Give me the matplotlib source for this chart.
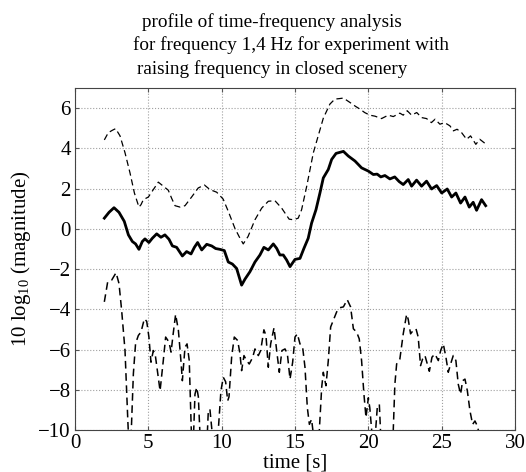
import matplotlib
matplotlib.use('Agg')
import matplotlib.pyplot as plt

plt.rcParams['font.family'] = ['Liberation Serif', 'DejaVu Serif']
plt.rcParams['mathtext.fontset'] = 'custom'
plt.rcParams['mathtext.rm'] = 'Liberation Serif'

# upper dashed curve
upper_t = [2.0, 2.27, 2.55, 2.77, 3.07, 3.41, 3.75, 4.05, 4.36, 4.5, 4.66, 5.0, 5.34, 5.68,
           6.02, 6.36, 6.6, 6.82, 7.16, 7.5, 7.95, 8.4, 8.82, 9.2, 9.66, 10.1, 10.45, 10.9,
           11.2, 11.47, 11.8, 12.27, 12.73, 13.18, 13.63, 14.09, 14.6, 14.9, 15.22, 15.45,
           15.8, 16.25, 16.93, 17.38, 17.72, 18.0, 18.3, 18.75, 19.1, 19.43, 19.75, 20.1,
           20.45, 20.9, 21.36, 21.7, 22.15, 22.38, 22.65, 22.95, 23.3, 23.63, 23.97, 24.3,
           24.55, 24.88, 25.2, 25.56, 25.8, 26.05, 26.36, 26.7, 26.97, 27.33, 27.6, 27.95]
upper_db = [4.42, 4.78, 4.9, 4.98, 4.62, 3.78, 2.78, 1.78, 1.08, 1.2, 1.45, 1.58, 1.95, 2.32,
            2.12, 1.92, 1.5, 1.15, 1.08, 1.15, 1.58, 2.03, 2.18, 1.95, 1.82, 1.48, 0.87, 0.03,
            -0.4, -0.75, -0.38, 0.45, 1.03, 1.37, 1.4, 1.03, 0.48, 0.45, 0.53, 0.95,
            2.12, 3.78, 5.5, 6.2, 6.45, 6.47, 6.5, 6.28, 6.1, 5.95, 5.78, 5.65,
            5.6, 5.48, 5.65, 5.58, 5.75, 5.65, 5.87, 5.65, 5.78, 5.53, 5.48, 5.28,
            5.45, 5.2, 5.28, 5.12, 4.87, 4.95, 4.78, 4.45, 4.62, 4.2, 4.45, 4.25]

# middle solid curve
mid_t = [2.0, 2.32, 2.66, 3.0, 3.36, 3.64, 3.91, 4.13, 4.36, 4.59, 4.77, 5.04, 5.27, 5.57,
         5.86, 6.13, 6.41, 6.64, 6.93, 7.32, 7.61, 7.91, 8.14, 8.36, 8.64, 8.98, 9.32, 9.59,
         9.88, 10.18, 10.45, 10.73, 11.02, 11.36, 11.59, 11.93, 12.27, 12.61, 12.88, 13.18,
         13.52, 13.75, 13.97, 14.2, 14.43, 14.66, 15.0, 15.34, 15.61, 15.9, 16.13, 16.43,
         16.7, 16.93, 17.27, 17.5, 17.8, 18.3, 18.63, 19.09, 19.54, 20.0, 20.34, 20.6,
         20.85, 21.13, 21.47, 21.8, 22.1, 22.38, 22.72, 22.95, 23.29, 23.63, 23.97, 24.31,
         24.66, 25.0, 25.38, 25.68, 25.97, 26.29, 26.59, 26.88, 27.15, 27.38, 27.72, 28.0]
mid_db = [0.53, 0.82, 1.05, 0.82, 0.37, -0.3, -0.63, -0.75, -1.02, -0.63, -0.5, -0.68, -0.47, -0.25,
          -0.42, -0.3, -0.52, -0.85, -0.92, -1.35, -1.13, -1.25, -0.92, -0.68, -1.05, -0.77, -0.85, -0.98,
          -1.02, -1.08, -1.65, -1.75, -1.97, -2.8, -2.5, -2.13, -1.65, -1.3, -0.92, -1.05,
          -0.75, -0.97, -1.3, -1.3, -1.55, -1.88, -1.52, -1.47, -0.97, -0.47, 0.28, 0.95,
          1.78, 2.53, 2.95, 3.45, 3.75, 3.85, 3.62, 3.37, 3.03, 2.87, 2.7, 2.72,
          2.58, 2.65, 2.48, 2.58, 2.35, 2.2, 2.45, 2.12, 2.42, 2.12, 2.37, 1.98,
          2.15, 1.78, 1.98, 1.58, 1.78, 1.28, 1.58, 1.08, 1.32, 0.92, 1.45, 1.15]

# lower dashed curve (drops below the axis floor in places)
lower_t = [2.0, 2.23, 2.5, 2.8, 3.0, 3.18, 3.41, 3.6, 3.72, 3.85, 3.98, 4.13, 4.32, 4.5, 4.73,
           4.89, 5.04, 5.18, 5.34, 5.46, 5.8, 6.02, 6.18, 6.41, 6.55, 6.68, 6.86, 7.05, 7.23,
           7.32, 7.5, 7.64, 7.79, 7.92, 8.0, 8.1, 8.18, 8.3, 8.41, 8.52, 8.8, 9.02, 9.09, 9.2,
           9.36, 9.55, 9.77, 9.95, 10.11, 10.27, 10.41, 10.5, 10.68, 10.86, 11.09, 11.25, 11.36,
           11.52, 11.7, 11.88, 12.11, 12.27, 12.5, 12.66, 12.88, 13.02, 13.18, 13.34, 13.57,
           13.75, 13.93, 14.11, 14.32, 14.48, 14.66, 14.84, 15.0, 15.16, 15.34, 15.52, 15.68,
           15.84, 15.98, 16.13, 16.25, 16.45, 16.66, 16.82, 16.93, 17.11, 17.27, 17.43, 17.61,
           17.84, 18.07, 18.3, 18.56, 18.79, 18.98, 19.2, 19.38, 19.54, 19.7, 19.84, 20.0, 20.1,
           20.25, 20.45, 20.61, 20.75, 20.84, 21.2, 21.7, 21.81, 21.93, 22.15, 22.38, 22.61,
           22.72, 22.88, 23.06, 23.25, 23.4, 23.56, 23.7, 23.86, 24.02, 24.16, 24.34, 24.54,
           24.77, 24.93, 25.11, 25.29, 25.45, 25.61, 25.79, 25.97, 26.13, 26.29, 26.43, 26.59,
           26.75, 26.93, 27.11, 27.27, 27.43, 27.6, 27.8, 28.0]
lower_db = [-3.63, -2.63, -2.55, -2.18, -2.72, -4.05, -6.05, -9.5, -11.5, -9.8, -7.2, -5.7, -5.3, -5.13, -4.47,
            -4.6, -5.38, -6.63, -6.05, -6.2, -8.05, -6.55, -5.38, -5.63, -6.13, -5.3, -4.25, -5.05, -6.63,
            -7.55, -5.88, -5.72, -6.55, -9.8, -11.5, -9.9, -8.22, -7.88, -8.35, -10.2, -11.5, -10.2, -9.05, -8.97,
            -10.2, -11.5, -10.0, -8.05, -7.38, -7.6, -8.55, -8.35, -6.38, -5.38, -5.55, -6.22, -7.05,
            -6.3, -6.55, -6.72, -6.4, -5.97, -6.3, -6.05, -5.02, -5.3, -6.88, -5.72, -4.92,
            -6.05, -7.13, -6.05, -5.97, -6.22, -7.47, -6.63, -5.38, -5.22, -5.72, -5.88, -6.88,
            -8.88, -9.72, -9.47, -10.2, -11.5, -10.0, -7.88, -7.13, -7.8, -6.55, -4.88, -4.55,
            -4.13, -3.92, -3.88, -3.52, -3.88, -4.97, -5.13, -5.47, -6.55, -8.22, -9.38, -8.4, -8.9,
            -10.2, -10.5, -8.88, -8.72, -10.2, -11.5, -10.0, -7.72, -6.72, -6.47, -5.22, -4.25,
            -4.5, -5.22, -5.05, -4.97, -5.38, -6.8, -6.47, -6.3, -6.72, -7.08, -6.38, -6.22,
            -6.55, -6.05, -5.72, -6.38, -7.13, -6.72, -6.3, -6.55, -7.72, -8.22, -7.55, -7.47,
            -8.05, -9.05, -9.72, -9.55, -9.8, -10.3, -11.0, -11.5]

x_ticks = [0, 5, 10, 15, 20, 25, 30]
y_ticks = [-10, -8, -6, -4, -2, 0, 2, 4, 6]

fig = plt.figure(figsize=(5.26, 4.72), dpi=100)
ax = fig.add_axes([75 / 526, 42 / 472, 440 / 526, 342 / 472])

ax.plot(upper_t, upper_db, color='black', linestyle='--', linewidth=0.9, dashes=(5, 3))
ax.plot(mid_t, mid_db, color='black', linestyle='-', linewidth=2.0)
ax.plot(lower_t, lower_db, color='black', linestyle='--', linewidth=1.1, dashes=(5, 3))

ax.set_xlim(0, 30)
ax.set_ylim(-10, 7)
ax.set_xticks(x_ticks)
ax.set_yticks(y_ticks)
ax.grid(True, linestyle=':', color='#a0a0a0', linewidth=0.8)
ax.tick_params(direction='in', length=3, top=True, right=True, labelsize=15, pad=3,
               color='#555555')
for s in ax.spines.values():
    s.set_linewidth(0.8)
    s.set_color('#444444')

ax.set_xlabel('time [s]', fontsize=15, labelpad=0)
ax.set_ylabel('10 log$_{10}$ (magnitude)', fontsize=15, labelpad=4)

# three-line title, each line placed as in the original
fig.text(142 / 526, 1 - 27 / 472, 'profile of time-frequency analysis', fontsize=13.8, ha='left', va='baseline')
fig.text(133 / 526, 1 - 50 / 472, 'for frequency 1,4 Hz for experiment with', fontsize=13.8, ha='left', va='baseline')
fig.text(137 / 526, 1 - 74 / 472, 'raising frequency in closed scenery', fontsize=13.8, ha='left', va='baseline')

fig.savefig('out.png', dpi=100)
